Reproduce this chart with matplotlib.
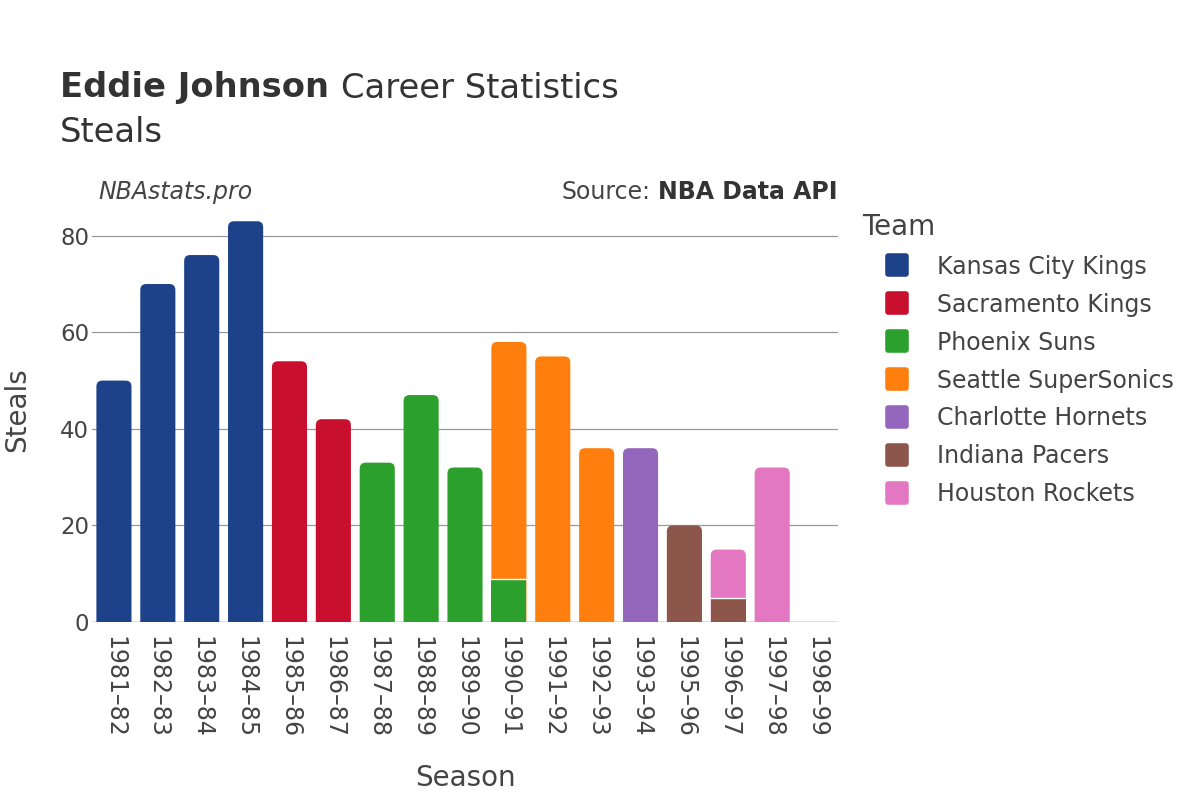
import matplotlib.pyplot as plt
from matplotlib.patches import FancyBboxPatch, Rectangle
from matplotlib.markers import MarkerStyle
from matplotlib.lines import Line2D

# Datos
seasons = ["1981–82", "1982–83", "1983–84", "1984–85", "1985–86", "1986–87",
           "1987–88", "1988–89", "1989–90", "1990–91", "1991–92", "1992–93",
           "1993–94", "1995–96", "1996–97", "1997–98", "1998–99"]
teams = ["Kansas City Kings", "Sacramento Kings", "Phoenix Suns",
         "Seattle SuperSonics", "Charlotte Hornets", "Indiana Pacers",
         "Houston Rockets"]
colores = ["#1d428a", "#c8102e", "#2ca02c", "#ff7f0e", "#9467bd",
           "#8c564b", "#e377c2"]

kck = [50, 70, 76, 83, 0, 0, 0, 0, 0, 0, 0, 0, 0, 0, 0, 0, 0]
sac = [0, 0, 0, 0, 54, 42, 0, 0, 0, 0, 0, 0, 0, 0, 0, 0, 0]
phx = [0, 0, 0, 0, 0, 0, 33, 47, 32, 9, 0, 0, 0, 0, 0, 0, 0]
sea = [0, 0, 0, 0, 0, 0, 0, 0, 0, 49, 55, 36, 0, 0, 0, 0, 0]
cha = [0, 0, 0, 0, 0, 0, 0, 0, 0, 0, 0, 0, 36, 0, 0, 0, 0]
ind = [0, 0, 0, 0, 0, 0, 0, 0, 0, 0, 0, 0, 0, 20, 5, 0, 0]
hou = [0, 0, 0, 0, 0, 0, 0, 0, 0, 0, 0, 0, 0, 0, 10, 32, 0]
steals = [kck, sac, phx, sea, cha, ind, hou]

texto = "#444444"
fig = plt.figure(figsize=(12, 8), dpi=100)
ax = fig.add_axes([92 / 1200, 1 - 622 / 800, (838 - 92) / 1200, (622 - 200) / 800])

ymax = 87.4
ancho = 0.8
ax.set_xlim(-0.5, len(seasons) - 0.5)
ax.set_ylim(0, ymax)

# escala px por unidad para redondear las esquinas
px_x = (838 - 92) / len(seasons)
px_y = (622 - 200) / ymax
radio = 6 / px_x
aspecto = px_x / px_y

for i in range(len(seasons)):
    segs = [(steals[t][i], colores[t]) for t in range(len(teams)) if steals[t][i] > 0]
    if not segs:
        continue
    total = sum(v for v, c in segs)
    # barra superior redondeada, desde abajo del eje (se recorta)
    top_col = segs[-1][1]
    p = FancyBboxPatch((i - ancho / 2, -5), ancho, total + 5,
                       boxstyle=f"round,pad=0,rounding_size={radio}",
                       mutation_aspect=aspecto, fc=top_col, ec="none", zorder=3)
    ax.add_patch(p)
    base = 0
    for v, c in segs[:-1]:
        ax.add_patch(Rectangle((i - ancho / 2, base), ancho, v, fc=c, ec="none", zorder=4))
        base += v
        ax.plot([i - ancho / 2, i + ancho / 2], [base, base], color="white", lw=1, zorder=5)

ax.set_yticks([0, 20, 40, 60, 80])
ax.grid(axis="y", color="#999999", lw=0.9)
ax.set_axisbelow(True)
ax.axhline(0, color="#dddddd", lw=2, zorder=2)
for s in ax.spines.values():
    s.set_visible(False)
ax.set_xticks(range(len(seasons)))
ax.set_xticklabels(seasons, rotation=-90)
ax.tick_params(axis="both", length=0, labelcolor=texto)
ax.tick_params(axis="x", pad=10, labelsize=17)
ax.tick_params(axis="y", pad=2, labelsize=16.5)
ax.set_xlabel("Season", fontsize=20, color=texto, va="center")
ax.set_ylabel("Steals", fontsize=20, color=texto, va="center")
ax.xaxis.set_label_coords(0.5, -(778 - 622) / (622 - 200))
ax.yaxis.set_label_coords(-(92 - 17) / (838 - 92), (622 - 410) / (622 - 200))

# Titulos
fig.canvas.draw()
r = fig.canvas.get_renderer()
t1 = fig.text(60 / 1200, 1 - 88 / 800, "Eddie Johnson", fontsize=24.3, weight="bold",
              color="#333333", va="center")
bb = t1.get_window_extent(r)
fig.text((bb.x1 + 12) / 1200, 1 - 88 / 800, "Career Statistics", fontsize=24.3,
         color="#333333", va="center")
fig.text(60 / 1200, 1 - 132 / 800, "Steals", fontsize=24.3, color="#333333", va="center")
fig.text(98 / 1200, 1 - 192 / 800, "NBAstats.pro", fontsize=17, style="italic",
         color=texto, va="center")
t2 = fig.text(838 / 1200, 1 - 192 / 800, "NBA Data API", fontsize=17, weight="bold",
              color="#333333", va="center", ha="right")
bb2 = t2.get_window_extent(r)
fig.text((bb2.x0 - 8) / 1200, 1 - 192 / 800, "Source:", fontsize=17,
         color=texto, va="center", ha="right")

# Leyenda
marca = MarkerStyle("s", joinstyle="round")
handles = [Line2D([], [], ls="none", marker=marca, ms=13, mew=4, color=c, mec=c)
           for c in colores]
leg = fig.legend(handles, teams, loc="upper left",
                 bbox_to_anchor=(850 / 1200, 1 - 201 / 800), frameon=False,
                 fontsize=17, title="Team", title_fontsize=20, labelspacing=0.59,
                 handletextpad=0.24, handlelength=2.96, borderpad=0, alignment="left")
for t in leg.get_texts():
    t.set_color(texto)
leg.get_title().set_color(texto)

fig.savefig("out.png", dpi=100)
